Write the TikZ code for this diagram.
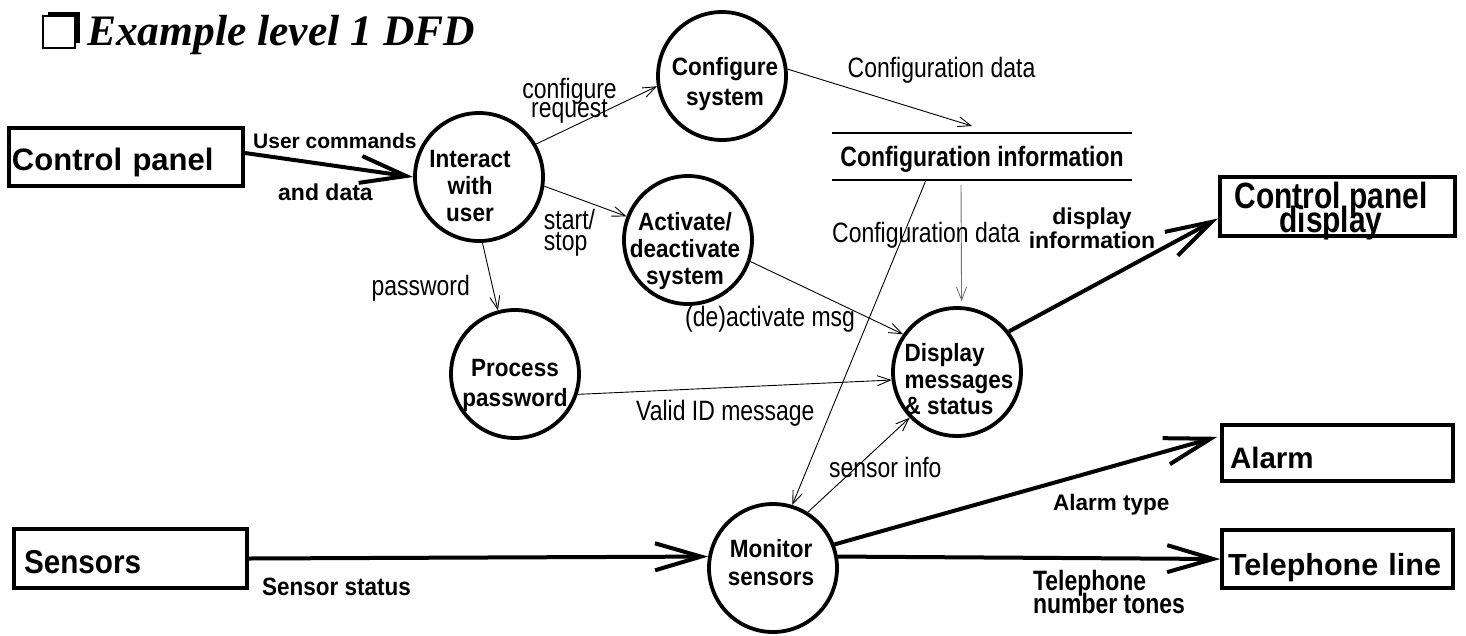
\documentclass[tikz,border=0pt]{standalone}
\usepackage{fontspec}
\setmainfont{Liberation Sans}
\newfontfamily\narrowfont{Liberation Sans}[FakeStretch=0.82]
\newfontfamily\procfont{Liberation Sans}[FakeStretch=0.9]
\newfontfamily\titlefont{Liberation Serif}
\usetikzlibrary{arrows.meta}
\lineskiplimit=-\maxdimen

\begin{document}
\begin{tikzpicture}[x=1pt,y=-1pt,
    proc/.style={circle,draw,line width=3.8pt,minimum size=128pt,inner sep=0pt},
    ptext/.style={font=\procfont\bfseries\fontsize{25}{27}\selectfont,align=center},
    ext/.style={draw,line width=4pt,inner ysep=0pt,align=left},
    flow/.style={line width=0.9pt,-{Straight Barb[length=13pt,width=10pt]}},
    bigflow/.style={line width=4pt,-{Straight Barb[length=46pt,width=27pt]}},
    lbl/.style={font=\narrowfont\fontsize{28}{21}\selectfont,inner sep=0pt},
    blbl/.style={font=\bfseries\fontsize{23}{24}\selectfont,inner sep=0pt}]
\useasboundingbox (0,0) rectangle (1466,635);
% title
\fill (48,12) rectangle (80,43);
\filldraw[fill=white,line width=1.5pt] (43,16) rectangle (75,48);
\node[anchor=base west,inner sep=0pt,font=\titlefont\bfseries\itshape\fontsize{43.5}{48}\selectfont] (title) at (87,45) {Example level 1 DFD};

% external entities
\node[ext,minimum width=234pt,minimum height=58pt,inner xsep=3pt,text width=228pt,text height=26pt,text depth=0pt,font=\bfseries\fontsize{31}{34}\selectfont] (cpanel) at (126,157) {Control panel};
\node[ext,minimum width=233pt,minimum height=59pt,inner xsep=10pt,text width=213pt,text height=29pt,text depth=0pt,font=\procfont\bfseries\fontsize{33}{36}\selectfont] (sensors) at (130.5,558.5) {Sensors};
\node[ext,line width=3.5pt,minimum width=231pt,minimum height=56pt,inner xsep=8pt,text width=215pt,text height=30pt,text depth=0pt,font=\bfseries\fontsize{29.5}{32}\selectfont] (alarm) at (1337.5,453) {Alarm};
\node[ext,line width=3.5pt,minimum width=231pt,minimum height=58pt,inner xsep=6pt,text width=219pt,text height=32pt,text depth=0pt,font=\bfseries\fontsize{30.5}{33}\selectfont] (tel) at (1337.5,559) {Telephone line};
\node[ext,minimum width=235pt,minimum height=59pt,label={[font=\narrowfont\bfseries\fontsize{36.5}{24}\selectfont,align=center,xshift=-6.5pt,yshift=-5pt]center:Control panel\\display}] (cpd) at (1337.5,206.5) {};

% processes
\node[proc,label={[ptext,xshift=-9pt,yshift=-9pt]center:Interact\\with\\user}] (interact) at (479,177) {};
\node[proc,label={[ptext,font=\procfont\bfseries\fontsize{25}{30}\selectfont,xshift=3pt,yshift=-7.7pt]center:Configure\\system}] (config) at (722,76) {};
\node[proc,label={[ptext,xshift=-3pt,yshift=-10.7pt]center:Activate/\\deactivate\\system}] (activ) at (688,240) {};
\node[proc,label={[ptext,font=\procfont\bfseries\fontsize{25}{30}\selectfont,yshift=-11.7pt]center:Process\\password}] (procpw) at (515,374) {};
\node[proc,label={[ptext,align=left,font=\procfont\bfseries\fontsize{25}{26.5}\selectfont,xshift=2pt,yshift=-7.5pt]center:Display\\messages\\\& status}] (display) at (957,372) {};
\node[proc,label={[ptext,font=\procfont\bfseries\fontsize{25}{28}\selectfont,xshift=-2pt,yshift=5pt]center:Monitor\\sensors}] (monitor) at (773,568) {};

% data store
\node[inner sep=0pt,outer sep=0pt,minimum width=300pt,minimum height=47pt,text height=20pt,text depth=0pt,font=\narrowfont\bfseries\fontsize{28}{30}\selectfont] (store) at (982,156.5) {Configuration information};
\draw[line width=2pt] (store.north west) -- (store.north east) (store.south west) -- (store.south east);

% thin flows
\draw[flow] (interact.30) -- (config.189);
\draw[flow] (interact.-8) -- (activ.159);
\draw[flow] (interact.-87) -- (procpw.105);
\draw[flow] (config.6) -- ([xshift=-10pt,yshift=7pt]store.north);
\draw[flow] (activ.-19) -- (display.145);
\draw[flow] (procpw.-18) -- (display.187);
\draw[flow,black!55,shorten >=5pt] ([xshift=-21pt,yshift=-5pt]store.south) -- (display.86);
\draw[flow] ([xshift=-56pt]store.south) -- (monitor.73);
\draw[flow] (monitor.58) -- (display.224);

% thick flows
\draw[bigflow] ([yshift=4pt]cpanel.east) -- (interact.west);
\draw[bigflow] (sensors.east) -- (monitor.170);
\draw[bigflow,shorten >=3pt] (monitor.21) -- ([yshift=17pt]alarm.west);
\draw[bigflow] (monitor.10) -- (tel.west);
\draw[bigflow] (display.38) -- ([yshift=-12pt]cpd.west);

% flow labels
\node[lbl,anchor=base] (cfgdata) at (941.5,77) {Configuration data};
\node[lbl,align=center,font=\narrowfont\fontsize{28}{19}\selectfont] (cfgreq) at (569.5,100.3) {configure\\request};
\node[lbl,align=left] (startstop) at (569.5,232.5) {start/\\stop};
\node[lbl,anchor=base east] (pwlbl) at (470,295) {password};
\node[lbl,anchor=base west] (deactlbl) at (685,326) {(de)activate msg};
\node[lbl,anchor=base west] (validlbl) at (636,420) {Valid ID message};
\node[lbl,anchor=base west] (cfgdata2) at (832,242) {Configuration data};
\node[lbl,anchor=base west] (sensinfo) at (829,477) {sensor info};
\node[blbl,anchor=base west,font=\bfseries\fontsize{21}{24}\selectfont] (usercmd) at (253,148) {User commands};
\node[blbl,anchor=base west] (anddata) at (278,200) {and data};
\node[blbl,align=center] (dispinfo) at (1092,228.7) {display\\information};
\node[blbl,anchor=base west,font=\bfseries\fontsize{22.5}{24}\selectfont] (alarmtype) at (1053,510) {Alarm type};
\node[blbl,align=left,font=\narrowfont\bfseries\fontsize{28}{23}\selectfont] (tones) at (1109,591.5) {Telephone\\number tones};
\node[blbl,anchor=base west,font=\procfont\bfseries\fontsize{25}{27}\selectfont] (sensstat) at (262,595) {Sensor status};
\end{tikzpicture}
\end{document}
